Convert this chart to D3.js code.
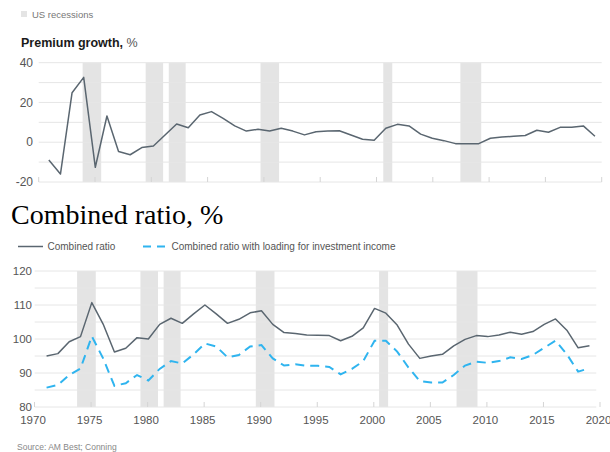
<!DOCTYPE html>
<html>
<head>
<meta charset="utf-8">
<script src="https://cdn.jsdelivr.net/npm/d3@7"></script>
<style>
  body { margin: 0; background: #fff; }
  svg { display: block; font-family: "Liberation Sans", Arial, sans-serif; }
</style>
</head>
<body>
<svg width="610" height="452"></svg>
<script>
// premium growth, % (48 yearly points as drawn)
const premiumYears = d3.range(1971, 2019);
const premiumGrowth = [-8.9, -16.0, 24.9, 32.6, -12.6, 13.2, -4.7, -6.3, -2.7, -1.9,
  3.6, 9.2, 7.3, 13.7, 15.4, 12.0, 8.2, 5.6, 6.5, 5.6,
  7.0, 5.6, 3.7, 5.3, 5.6, 5.8, 3.6, 1.5, 1.0, 7.0,
  9.0, 8.2, 4.1, 2.0, 0.8, -0.7, -0.7, -0.7, 2.0, 2.6,
  3.0, 3.4, 6.0, 5.0, 7.5, 7.5, 8.2, 3.0];

// combined ratio, % 1971-2019
const ratioYears = d3.range(1971, 2020);
const combinedRatio = [95.0, 95.7, 99.2, 100.7, 110.7, 104.4, 96.2, 97.3, 100.4, 100.0,
  104.3, 106.1, 104.6, 107.4, 110.0, 107.4, 104.6, 105.8, 107.7, 108.3,
  104.3, 101.9, 101.6, 101.2, 101.1, 101.0, 99.5, 100.8, 103.3, 109.0,
  107.6, 104.1, 98.5, 94.3, 95.0, 95.5, 98.0, 99.9, 101.0, 100.7,
  101.2, 102.0, 101.4, 102.2, 104.3, 105.9, 102.6, 97.4, 98.0];
const ratioWithInvestment = [85.7, 86.5, 89.4, 91.3, 100.8, 94.3, 86.2, 87.0, 89.4, 87.8,
  91.2, 93.5, 92.8, 95.5, 98.7, 97.8, 94.6, 95.3, 97.8, 98.2,
  94.3, 92.2, 92.6, 92.1, 92.1, 91.8, 89.6, 91.2, 93.5, 99.5,
  99.5, 96.3, 91.6, 87.6, 87.2, 87.2, 89.4, 92.2, 93.3, 93.0,
  93.5, 94.6, 94.1, 95.3, 97.4, 99.5, 95.5, 90.4, 91.4];

const recessions = [[1973.9, 1975.55], [1979.5, 1981.05], [1981.55, 1983.05],
  [1989.7, 1991.35], [2000.6, 2001.4], [2007.45, 2009.3]];

const yearTicks = d3.range(1970, 2021, 5);
const premiumTicks = [-20, -10, 0, 10, 20, 30, 40];
const premiumLabels = [-20, 0, 20, 40];
const ratioTicks = [80, 85, 90, 95, 100, 105, 110, 115, 120];
const ratioLabels = [80, 90, 100, 110, 120];

const gridColor = "#e6e6e6";
const bandColor = "#e4e4e4";
const grayLine = "#5a6670";
const blueLine = "#2fb4ef";
const labelColor = "#555";

const svg = d3.select("svg");

// legend for recessions
svg.append("rect").attr("x", 21).attr("y", 11).attr("width", 6).attr("height", 6).attr("fill", bandColor);
svg.append("text").attr("x", 32).attr("y", 17.5).attr("font-size", 9.5).attr("fill", "#777").text("US recessions");

const title1 = svg.append("text").attr("x", 21).attr("y", 46.5).attr("font-size", 12.5).attr("fill", "#1a1a1a");
title1.append("tspan").attr("font-weight", "bold").text("Premium growth,");
title1.append("tspan").attr("fill", "#555").text(" %");

// ---- top chart ----
const xTop = d3.scaleLinear().domain([1970, 2020]).range([38.7, 601.7]);
const xPrem = d3.scalePoint().domain(premiumYears).range([xTop(1970.9), xTop(2019.4)]);
const yTop = d3.scaleLinear().domain([-20, 40]).range([182, 62.7]);

const topG = svg.append("g");
topG.selectAll(".band").data(recessions).enter().append("rect")
  .attr("x", d => xTop(d[0])).attr("width", d => xTop(d[1]) - xTop(d[0]))
  .attr("y", yTop(40)).attr("height", yTop(-20) - yTop(40))
  .attr("fill", bandColor);

topG.selectAll(".grid").data(premiumTicks).enter().append("line")
  .attr("x1", xTop(1970)).attr("x2", xTop(2020))
  .attr("y1", d => yTop(d)).attr("y2", d => yTop(d))
  .attr("stroke", gridColor).attr("stroke-width", 1);

topG.selectAll(".tick").data(yearTicks).enter().append("line")
  .attr("x1", d => xTop(d)).attr("x2", d => xTop(d))
  .attr("y1", yTop(-20) - 5).attr("y2", yTop(-20))
  .attr("stroke", "#d4d4d4");

topG.selectAll(".ylab").data(premiumLabels).enter().append("text")
  .attr("x", 33).attr("y", d => yTop(d)).attr("dy", "0.35em")
  .attr("text-anchor", "end").attr("font-size", 12).attr("fill", labelColor)
  .text(d => d);

topG.append("path")
  .datum(premiumYears.map((yr, i) => ({ year: yr, v: premiumGrowth[i] })))
  .attr("fill", "none").attr("stroke", grayLine).attr("stroke-width", 1.5)
  .attr("stroke-linejoin", "round")
  .attr("d", d3.line().x(d => xPrem(d.year)).y(d => yTop(d.v)));

// ---- bottom chart ----
svg.append("text").attr("x", 11).attr("y", 224).attr("font-family", "Liberation Serif, serif")
  .attr("font-size", 28).attr("fill", "#000").text("Combined ratio, %");

const legend = svg.append("g");
legend.append("line").attr("x1", 18).attr("x2", 43).attr("y1", 246.5).attr("y2", 246.5)
  .attr("stroke", grayLine).attr("stroke-width", 1.5);
legend.append("text").attr("x", 47.5).attr("y", 250).attr("font-size", 10).attr("fill", labelColor).text("Combined ratio");
legend.append("line").attr("x1", 143).attr("x2", 167).attr("y1", 246.5).attr("y2", 246.5)
  .attr("stroke", blueLine).attr("stroke-width", 2).attr("stroke-dasharray", "8,6");
legend.append("text").attr("x", 171.5).attr("y", 250).attr("font-size", 10).attr("fill", labelColor)
  .text("Combined ratio with loading for investment income");

const xBot = d3.scaleLinear().domain([1970, 2020]).range([33, 598.5]);
const yBot = d3.scaleLinear().domain([80, 120]).range([407, 271]);
const shift = 0.2; // yearly points drawn a little past the tick

const bot = svg.append("g");
bot.selectAll(".band").data(recessions).enter().append("rect")
  .attr("x", d => xBot(d[0])).attr("width", d => xBot(d[1]) - xBot(d[0]))
  .attr("y", yBot(120)).attr("height", yBot(80) - yBot(120))
  .attr("fill", bandColor);

bot.selectAll(".grid").data(ratioTicks).enter().append("line")
  .attr("x1", xBot(1970.15)).attr("x2", xBot(2019.8))
  .attr("y1", d => yBot(d)).attr("y2", d => yBot(d))
  .attr("stroke", gridColor).attr("stroke-width", 1);

bot.selectAll(".tick").data(yearTicks).enter().append("line")
  .attr("x1", d => xBot(d) + 1.5).attr("x2", d => xBot(d) + 1.5)
  .attr("y1", yBot(80) - 5).attr("y2", yBot(80))
  .attr("stroke", "#d4d4d4");

bot.selectAll(".ylab").data(ratioLabels).enter().append("text")
  .attr("x", 32).attr("y", d => yBot(d)).attr("dy", "0.35em")
  .attr("text-anchor", "end").attr("font-size", 11.5).attr("fill", labelColor)
  .text(d => d);

bot.selectAll(".xlab").data(yearTicks).enter().append("text")
  .attr("x", d => xBot(d)).attr("y", 423.5)
  .attr("text-anchor", "middle").attr("font-size", 11.5).attr("fill", labelColor)
  .text(d => d);

const lineBot = d3.line().x(d => xBot(d.year + shift)).y(d => yBot(d.v));

bot.append("path")
  .datum(ratioYears.map((yr, i) => ({ year: yr, v: ratioWithInvestment[i] })))
  .attr("fill", "none").attr("stroke", blueLine).attr("stroke-width", 2)
  .attr("stroke-dasharray", "9,6")
  .attr("d", lineBot);

bot.append("path")
  .datum(ratioYears.map((yr, i) => ({ year: yr, v: combinedRatio[i] })))
  .attr("fill", "none").attr("stroke", grayLine).attr("stroke-width", 1.5)
  .attr("stroke-linejoin", "round")
  .attr("d", lineBot);

svg.append("text").attr("x", 17).attr("y", 450).attr("font-size", 8.5).attr("fill", "#888")
  .text("Source: AM Best; Conning");
</script>
</body>
</html>
